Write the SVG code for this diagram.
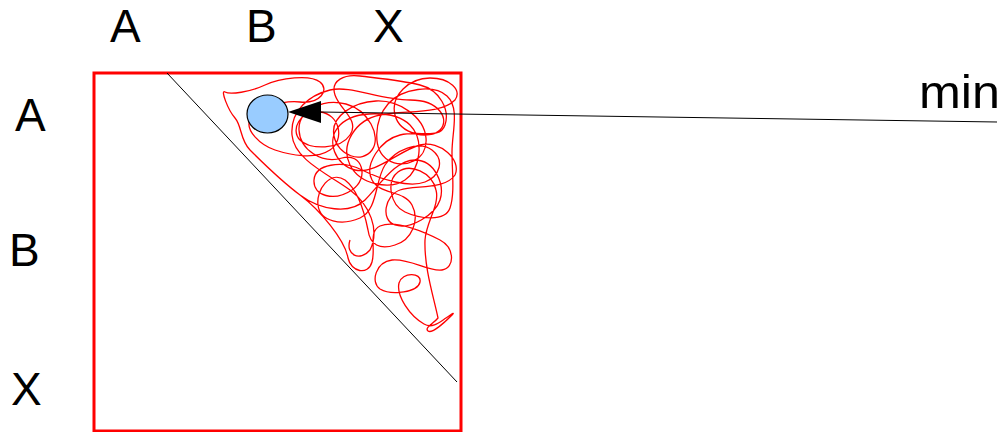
<svg xmlns="http://www.w3.org/2000/svg" width="1001" height="432" viewBox="0 0 1001 432">
<style>
.lbl{font-family:"Liberation Sans",Arial,sans-serif;font-size:46px;fill:#000}
.scribble{fill:none;stroke:#ff0000;stroke-width:1.3;stroke-linejoin:round}
</style>
<rect x="0" y="0" width="1001" height="432" fill="#ffffff"/>
<g id="labels">
<text class="lbl" x="110" y="42">A</text>
<text class="lbl" x="246" y="42">B</text>
<text class="lbl" x="373" y="42">X</text>
<text class="lbl" x="15" y="131">A</text>
<text class="lbl" x="9" y="266">B</text>
<text class="lbl" x="11" y="405">X</text>
<text class="lbl" x="919" y="108" textLength="81" lengthAdjust="spacingAndGlyphs">min</text>
</g>
<g id="frame">
<rect x="94" y="73" width="367" height="358" fill="none" stroke="#ff0000" stroke-width="3"/>
<line x1="167" y1="73" x2="457" y2="382" stroke="#000" stroke-width="1"/>
</g>
<g id="scribble">
<path class="scribble" d="M 300 195
C 320 210, 345 240, 348 258
C 351 272, 368 276, 372 262
C 376 248, 368 232, 380 226
C 395 220, 420 230, 440 240
C 455 248, 455 268, 442 270
C 428 272, 410 258, 392 260
C 376 262, 370 282, 380 289
C 392 296, 418 292, 420 282
C 422 272, 402 272, 399 283
C 396 296, 410 316, 424 324
C 432 329, 440 322, 446 318
C 452 314, 456 311, 451 316
C 446 321, 432 334, 428 331
C 424 328, 434 323, 438 318
C 434 298, 424 268, 425 240
C 426 222, 440 205, 436 190
C 432 172, 410 163, 398 172
C 386 181, 390 205, 405 212
C 420 219, 445 222, 450 208
C 455 193, 452 172, 452 152
C 452 132, 460 108, 447 96
C 434 84, 402 88, 388 104
C 374 120, 372 150, 388 160
C 404 170, 428 160, 426 138
C 424 116, 398 100, 376 101
C 354 102, 330 116, 334 136
C 338 156, 362 164, 372 150
C 382 136, 368 110, 346 104
C 324 98, 298 110, 299 130
C 300 150, 322 164, 342 158
C 362 152, 370 178, 352 190
C 334 202, 313 196, 314 180
C 315 164, 342 160, 362 170
C 382 180, 410 188, 425 182
C 440 176, 445 160, 432 150
C 419 140, 395 150, 385 165
C 375 180, 378 210, 360 218
C 342 226, 320 222, 318 205
C 316 190, 330 170, 345 180
C 358 190, 365 215, 368 230
C 370 245, 380 250, 395 245
C 412 240, 420 220, 412 205
C 404 190, 380 195, 372 180
C 364 165, 380 140, 400 135
C 420 130, 440 140, 445 125
C 450 110, 440 90, 420 85
C 400 80, 375 78, 360 76
C 345 74, 330 80, 335 95
C 340 110, 360 120, 350 135
C 340 150, 310 150, 300 140
C 290 130, 300 110, 320 112
C 340 114, 345 140, 330 150
C 315 160, 290 155, 275 150
C 260 145, 245 130, 250 120
C 255 110, 280 100, 300 102
C 320 104, 330 90, 320 82
C 310 74, 280 78, 265 85
C 250 92, 230 95, 225 92
C 220 89, 228 110, 235 118
C 242 126, 240 140, 250 150
C 262 162, 280 180, 300 195
C 320 210, 350 215, 365 200
C 380 185, 395 160, 415 160
C 435 160, 445 185, 440 200
C 435 215, 410 230, 395 225
C 380 220, 385 195, 400 190
C 415 185, 445 190, 455 175
C 462 160, 440 140, 420 145
C 400 150, 375 175, 355 170
C 335 165, 325 140, 340 125
C 355 110, 395 110, 410 125
C 425 140, 420 170, 405 180
C 390 190, 360 185, 350 165
C 340 145, 355 120, 380 115
C 405 110, 440 115, 455 100
C 462 90, 450 78, 430 78
C 410 78, 390 95, 395 115
C 400 135, 430 140, 440 130
C 450 120, 440 100, 410 100
C 380 100, 350 85, 330 90
C 310 95, 290 110, 292 135
C 294 160, 330 175, 350 190
C 370 205, 380 230, 370 250
C 360 262, 345 255, 350 240"/>
</g>
<g id="node-min">
<ellipse cx="267.5" cy="114" rx="20.5" ry="19" fill="#99ccff" stroke="#000" stroke-width="1.2"/>
</g>
<g id="connectors">
<line x1="320" y1="112" x2="997" y2="122" stroke="#000" stroke-width="1"/>
<polygon points="288,112 321,101 321,123" fill="#000"/>
</g>
</svg>
